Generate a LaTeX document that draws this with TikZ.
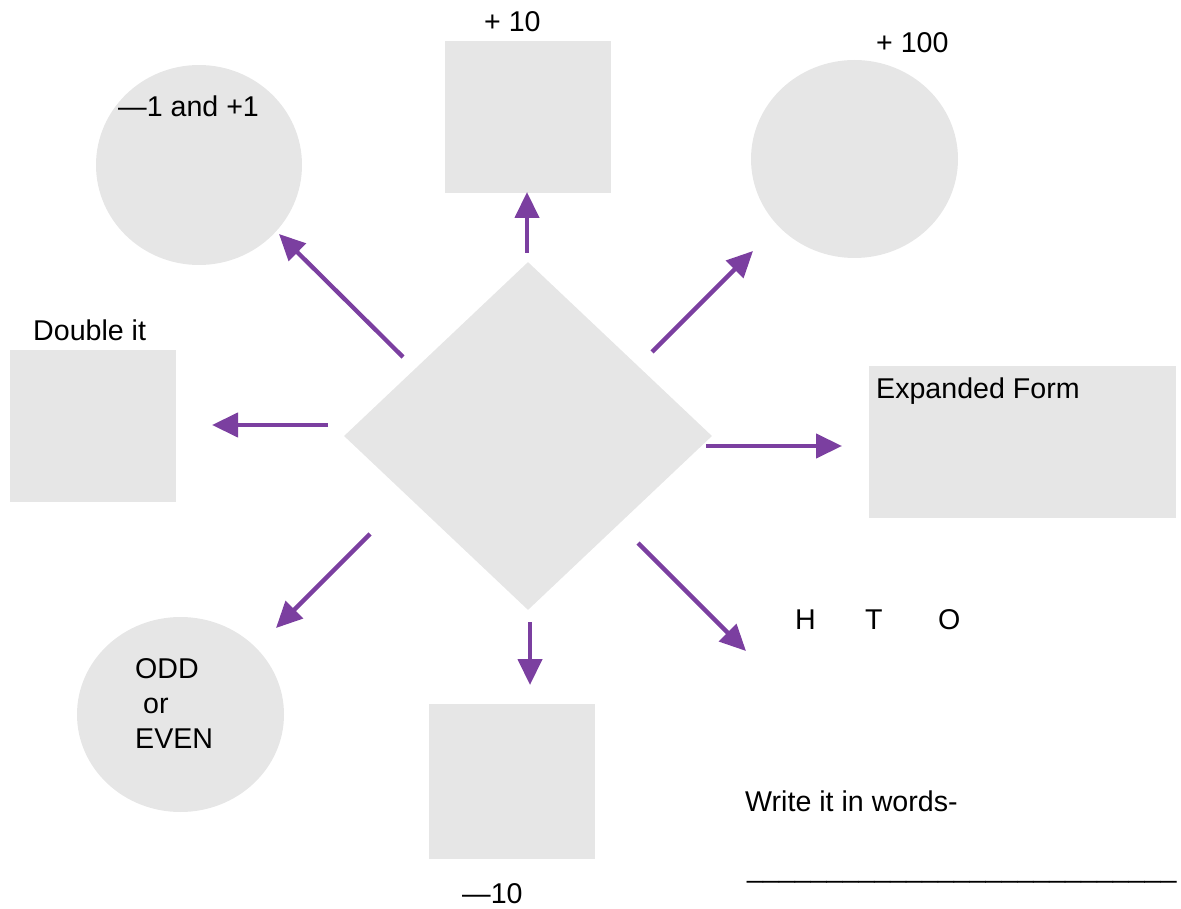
\documentclass[tikz,border=0pt]{standalone}
\usepackage{fontspec}
\setmainfont{Liberation Sans}
\usetikzlibrary{shapes.geometric,arrows.meta}
\definecolor{shapegray}{HTML}{E6E6E6}
\definecolor{arrowpurple}{HTML}{7B3FA0}
\tikzset{
  shapebox/.style={fill=shapegray, draw=none, inner sep=0pt},
  roundbox/.style={shapebox, ellipse},
  conn/.style={draw=arrowpurple, line width=4.3pt, -{Triangle[length=26pt,width=24pt]}},
  lbl/.style={inner sep=0pt, anchor=base west, font=\fontsize{28.6}{34}\selectfont}
}
\begin{document}
\begin{tikzpicture}[x=1pt,y=-1pt]
\useasboundingbox (0,0) rectangle (1181,909);
% shapes
\node[roundbox, minimum width=206pt, minimum height=200pt] (c1) at (199,165) {};
\node[shapebox, minimum width=166pt, minimum height=152pt] (s10) at (528,117) {};
\node[roundbox, minimum width=207pt, minimum height=198pt] (c100) at (854.5,159) {};
\node[shapebox, minimum width=166pt, minimum height=152pt] (sdbl) at (93,426) {};
\node[shapebox, diamond, minimum width=368pt, minimum height=348pt] (dia) at (528,436) {};
\node[shapebox, minimum width=307pt, minimum height=152pt] (sexp) at (1022.5,442) {};
\node[roundbox, minimum width=207pt, minimum height=195pt] (codd) at (180.5,714.5) {};
\node[shapebox, minimum width=166pt, minimum height=155pt] (sm10) at (512,781.5) {};
% labels
\node[lbl] (t10) at (484,32) {+ 10};
\node[lbl] (t100) at (876,53) {+ 100};
\node[lbl] (t1) at (118,117) {—1 and +1};
\node[lbl] (tdbl) at (33,341) {Double it};
\node[lbl] (texp) at (876,399) {Expanded Form};
\node[lbl] (th) at (795,629) {H};
\node[lbl] (tt) at (865,629) {T};
\node[lbl] (to) at (938,629) {O};
\node[lbl] (todd) at (135,678) {ODD};
\node[lbl] (tor) at (135,713) {\ or};
\node[lbl] (teven) at (135,748) {EVEN};
\node[lbl] (tm10) at (462,903) {—10};
\node[lbl] (twords) at (745,811) {Write it in words-};
\node[lbl] (tline) at (747,877) {\_\_\_\_\_\_\_\_\_\_\_\_\_\_\_\_\_\_\_\_\_\_\_\_\_\_\_};
% arrow end points
\coordinate (aU1) at (527,253);   \coordinate (aU2) at (527,192);
\coordinate (aUL1) at (403,357);  \coordinate (aUL2) at (279,234);
\coordinate (aUR1) at (652,352);  \coordinate (aUR2) at (753,251);
\coordinate (aL1) at (328,425);   \coordinate (aL2) at (212,425);
\coordinate (aR1) at (706,446);   \coordinate (aR2) at (842,446);
\coordinate (aDL1) at (370,534);  \coordinate (aDL2) at (276,628);
\coordinate (aD1) at (530,622);   \coordinate (aD2) at (530,685);
\coordinate (aDR1) at (638,543);  \coordinate (aDR2) at (746,651);
% arrows
\draw[conn] (aU1) -- (aU2);
\draw[conn] (aUL1) -- (aUL2);
\draw[conn] (aUR1) -- (aUR2);
\draw[conn] (aL1) -- (aL2);
\draw[conn] (aR1) -- (aR2);
\draw[conn] (aDL1) -- (aDL2);
\draw[conn] (aD1) -- (aD2);
\draw[conn] (aDR1) -- (aDR2);
\end{tikzpicture}
\end{document}
